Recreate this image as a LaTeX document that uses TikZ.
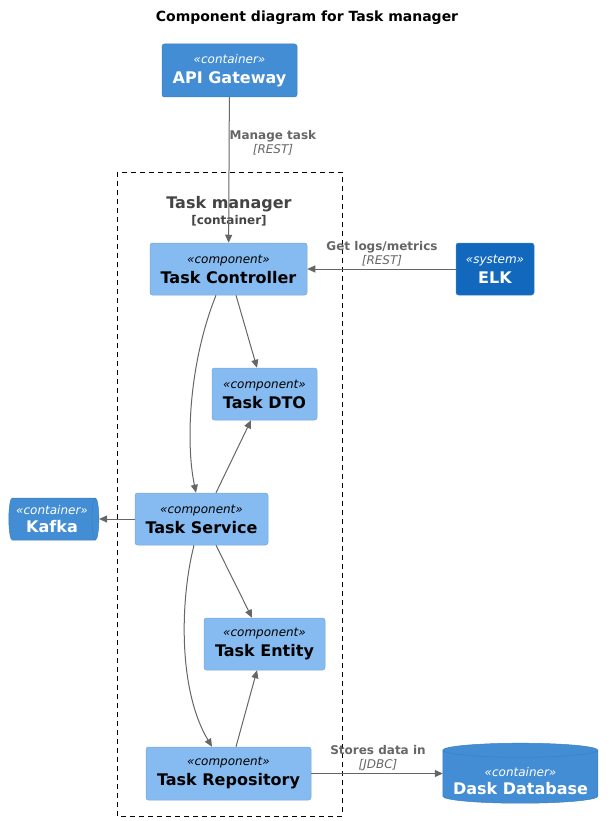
\documentclass[tikz,border=0pt]{standalone}
\usepackage{fontspec}
\setmainfont{DejaVu Sans}
\usetikzlibrary{shapes.geometric,arrows.meta,backgrounds}

\definecolor{compblue}{HTML}{85BBF0}
\definecolor{compline}{HTML}{78A8D8}
\definecolor{contblue}{HTML}{438DD5}
\definecolor{contline}{HTML}{3C7FC0}
\definecolor{sysblue}{HTML}{1168BD}
\definecolor{relgray}{HTML}{666666}
\definecolor{bndgray}{HTML}{444444}

\newcommand{\stereo}[1]{{\fontsize{12}{14}\selectfont\itshape «#1»}}
\newcommand{\elname}[1]{{\fontsize{16}{19}\selectfont\bfseries #1}}

\begin{document}
\begin{tikzpicture}[x=1pt,y=-1pt,
  comp/.style={draw=compline,line width=0.5pt,fill=compblue,rounded corners=2.5pt,align=center,inner sep=0pt,
    font=\fontsize{12}{20}\selectfont},
  cont/.style={comp,draw=contline,fill=contblue,text=white},
  sys/.style={comp,draw=contline,fill=sysblue,text=white},
  rel/.style={draw=relgray,line width=1pt,-{Triangle[length=8pt,width=7pt]}},
  lbl/.style={text=relgray,align=center,inner sep=0pt,font=\fontsize{12}{14}\selectfont}]
\useasboundingbox (0,0) rectangle (614,821);

\node[font=\fontsize{14}{17}\selectfont\bfseries] (title) at (307,18) {Component diagram for Task manager};

% boundary
\draw[black,line width=0.8pt,dash pattern=on 5pt off 4pt] (117,172) rectangle (342,816);
\node[text=bndgray,align=center,inner sep=0pt,font=\fontsize{12}{16.5}\selectfont] (tmlabel) at (229,211)
  {\elname{Task manager}\\\textbf{[container]}};

\node[cont,minimum width=135pt,minimum height=53pt] (api) at (229.5,70.5) {\stereo{container}\\\elname{API Gateway}};
\node[comp,minimum width=157pt,minimum height=52pt] (ctrl) at (228.5,269) {\stereo{component}\\\elname{Task Controller}};
\node[sys,minimum width=78pt,minimum height=52pt] (elk) at (495,269) {\stereo{system}\\\elname{ELK}};
\node[comp,minimum width=105pt,minimum height=52pt] (dto) at (264.5,394) {\stereo{component}\\\elname{Task DTO}};
\node[comp,minimum width=133pt,minimum height=52pt] (svc) at (201.5,519) {\stereo{component}\\\elname{Task Service}};
\node[comp,minimum width=121pt,minimum height=52pt] (entity) at (264.5,644) {\stereo{component}\\\elname{Task Entity}};
\node[comp,minimum width=165pt,minimum height=53pt] (repo) at (228.5,773.5) {\stereo{component}\\\elname{Task Repository}};

\node[cylinder,draw=contline,line width=0.5pt,fill=contblue,text=white,align=center,inner sep=0pt,
  font=\fontsize{12}{18}\selectfont,aspect=0.25,minimum width=42pt,minimum height=90pt] (kafka) at (52,519)
  {\stereo{container}\\\elname{Kafka}};
\node[text=white,align=center,inner sep=0pt,font=\fontsize{12}{18}\selectfont,
  minimum width=155pt,minimum height=44pt] (db) at (520.5,781) {\stereo{container}\\\elname{Dask Database}};
\begin{scope}[on background layer]
\path (db.south west) ++(0,-7) coordinate (dbbot) ++(0,-46) coordinate (dbtop);
\filldraw[draw=contline,line width=0.5pt,fill=contblue] (dbtop) -- (dbbot)
  arc[start angle=180,end angle=0,x radius=77.5,y radius=7] -- ++(0,-46)
  arc[start angle=0,end angle=-180,x radius=77.5,y radius=7] -- cycle;
\draw[contline,line width=0.5pt] (dbtop) arc[start angle=180,end angle=0,x radius=77.5,y radius=7];
\end{scope}

% relations
\draw[rel] (api) -- (ctrl);
\node[lbl] (managelbl) at (273,143) {\textbf{Manage task}\\\textit{[REST]}};
\draw[rel] (elk) -- (ctrl);
\node[lbl] (logslbl) at (382,254) {\textbf{Get logs/metrics}\\\textit{[REST]}};
\draw[rel] ([xshift=7.5pt]ctrl.south) -- ([xshift=-7.5pt]dto.north);
\draw[rel] ([xshift=-12.5pt]ctrl.south) .. controls (190,360) and (185,440) .. ([xshift=-5.5pt]svc.north);
\draw[rel] ([xshift=14.5pt]svc.north) -- ([xshift=-13.5pt]dto.south);
\draw[rel] (svc.west) -- (svc.west -| kafka.east);
\draw[rel] ([xshift=14.5pt]svc.south) -- ([xshift=-12.5pt]entity.north);
\draw[rel] ([xshift=-7.5pt]svc.south) .. controls (180,600) and (178,690) .. ([xshift=-16.5pt]repo.north);
\draw[rel] ([xshift=7.5pt]repo.north) -- ([xshift=-7.5pt]entity.south);
\draw[rel] (repo.east) -- (repo.east -| db.west);
\node[lbl] (storeslbl) at (378,758) {\textbf{Stores data in}\\\textit{[JDBC]}};

\end{tikzpicture}
\end{document}
